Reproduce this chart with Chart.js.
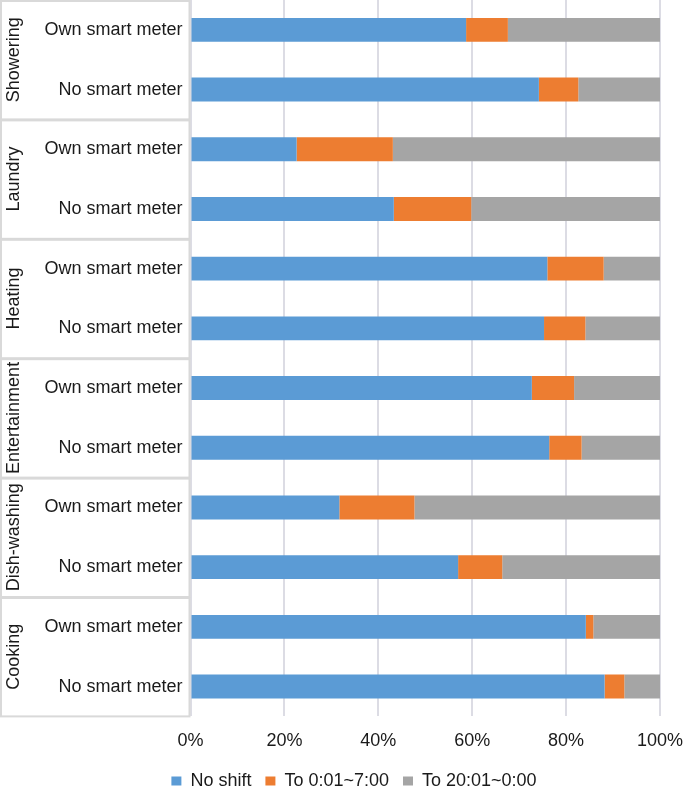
<!DOCTYPE html>
<html lang="en">
<head>
    <meta charset="UTF-8">
    <script src="https://cdn.jsdelivr.net/npm/chart.js"></script>
    <title>Load shifting by appliance</title>
    <style>
        body { margin: 0; background: #fff; }
    </style>
</head>
<body>
    <canvas id="canvas" width="685" height="786"></canvas>
    <script>
        // categories, top to bottom
        const groups = ['Showering', 'Laundry', 'Heating', 'Entertainment', 'Dish-washing', 'Cooking'];
        const meterLabels = ['Own smart meter', 'No smart meter'];
        const rowLabels = groups.flatMap(() => meterLabels);

        // shares in %, one value per row
        const noShift   = [58.7, 74.2, 22.6, 43.3, 76.0, 75.3, 72.7, 76.4, 31.7, 57.0, 84.2, 88.2];
        const toNight   = [8.9, 8.4, 20.5, 16.5, 12.0, 8.8, 9.0, 6.9, 16.0, 9.4, 1.6, 4.2];
        const toEvening = [32.4, 17.4, 56.9, 40.2, 12.0, 15.9, 18.3, 16.7, 52.3, 33.6, 14.2, 7.6];

        const seriesNames = ['No shift', 'To 0:01~7:00', 'To 20:01~0:00'];
        const xTicks = [0, 20, 40, 60, 80, 100];

        const font = 'Liberation Sans, Arial, Helvetica, sans-serif';

        // boxes + rotated group names on the left side
        const groupBoxes = {
            id: 'groupBoxes',
            afterLayout(chart) {
                // legend in the original sits a bit right of centre and tight to the bottom
                chart.legend.left += 12;
                chart.legend.right += 12;
                chart.legend.top -= 8;
                chart.legend.bottom -= 8;
            },
            afterDraw(chart) {
                const ctx = chart.ctx;
                const y = chart.scales.y;
                const area = chart.chartArea;
                const band = y.getPixelForValue(1) - y.getPixelForValue(0);
                ctx.save();
                ctx.strokeStyle = '#d9d9d9';
                ctx.lineWidth = 2;
                groups.forEach((name, i) => {
                    const top = y.getPixelForValue(i * 2) - band / 2;
                    const bottom = y.getPixelForValue(i * 2 + 1) + band / 2;
                    ctx.strokeRect(1, top + 1, area.left - 2, bottom - top - 1);

                    ctx.save();
                    ctx.translate(14, (top + bottom) / 2);
                    ctx.rotate(-Math.PI / 2);
                    ctx.fillStyle = '#1a1a1a';
                    ctx.font = '18px ' + font;
                    ctx.textAlign = 'center';
                    ctx.textBaseline = 'middle';
                    ctx.fillText(name, 0, 0);
                    ctx.restore();
                });
                ctx.restore();
            }
        };

        const colors = ['#5B9BD5', '#ED7D31', '#A5A5A5'];
        const values = [noShift, toNight, toEvening];

        new Chart(document.getElementById('canvas'), {
            type: 'bar',
            data: {
                labels: rowLabels,
                datasets: values.map((data, i) => ({
                    label: seriesNames[i],
                    data: data,
                    backgroundColor: colors[i],
                    borderWidth: 0,
                    barPercentage: 0.8,
                    categoryPercentage: 0.5,
                })),
            },
            options: {
                indexAxis: 'y',
                responsive: false,
                animation: false,
                layout: { padding: { left: 24, right: 25, top: 0, bottom: -22 } },
                scales: {
                    x: {
                        stacked: true,
                        min: 0,
                        max: 100,
                        afterBuildTicks: (scale) => {
                            scale.ticks = xTicks.map(v => ({ value: v }));
                        },
                        afterFit: (scale) => {
                            scale.paddingLeft = 0;
                            scale.paddingRight = 0;
                        },
                        ticks: {
                            callback: v => v + '%',
                            color: '#1a1a1a',
                            font: { family: font, size: 18 },
                            padding: 14,
                        },
                        grid: { color: '#dcdce4', lineWidth: 2, drawTicks: false },
                        border: { display: false },
                    },
                    y: {
                        stacked: true,
                        afterFit: (scale) => {
                            scale.width = 166.5;
                            scale.paddingTop = 0;
                            scale.paddingBottom = 0;
                        },
                        ticks: {
                            color: '#1a1a1a',
                            font: { family: font, size: 18 },
                            padding: 8,
                        },
                        grid: { display: false, drawTicks: false },
                        border: { display: false },
                    },
                },
                plugins: {
                    legend: {
                        position: 'bottom',
                        labels: {
                            color: '#1a1a1a',
                            font: { family: font, size: 18 },
                            boxWidth: 10,
                            boxHeight: 9,
                            padding: 14,
                        },
                    },
                    tooltip: { enabled: false },
                },
            },
            plugins: [groupBoxes],
        });
    </script>
</body>
</html>
